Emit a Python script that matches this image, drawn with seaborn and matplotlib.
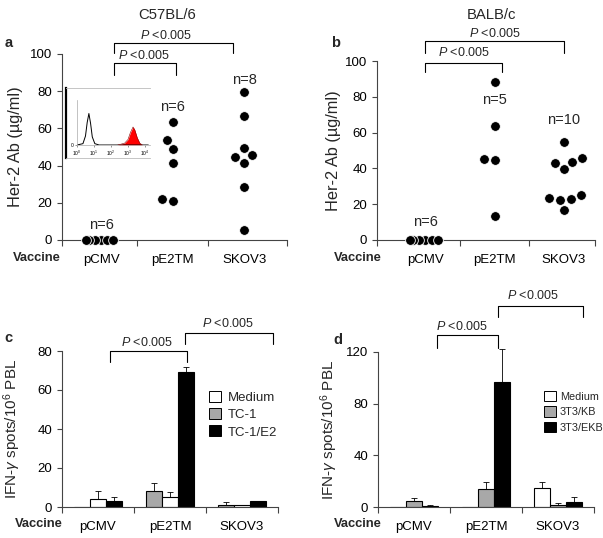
import matplotlib
matplotlib.use('Agg')
import pandas as pd
import matplotlib.pyplot as plt
import seaborn as sns
from matplotlib.patches import Patch

# Dados
vacinas = ['pCMV', 'pE2TM', 'SKOV3']

a_pcmv = [0, 0, 0, 0, 0, 0]
a_pe2tm = [63.5, 54, 49, 41.5, 21, 22]
a_skov3 = [79.5, 66.5, 49.5, 45.5, 44.5, 41.5, 28.5, 5.5]

b_pcmv = [0, 0, 0, 0, 0, 0]
b_pe2tm = [88, 63.5, 45, 44.5, 13.5]
b_skov3 = [54.5, 46, 43.5, 43, 39.5, 25, 23.5, 23, 22.5, 17]

c_ordem = ['TC-1', 'Medium', 'TC-1/E2']
c_legenda = ['Medium', 'TC-1', 'TC-1/E2']
c_medium = [4, 5, 0.8]
c_medium_err = [4, 2.5, 0]
c_tc1 = [0, 8, 1]
c_tc1_err = [0, 4.5, 1.5]
c_tc1e2 = [3, 69, 3]
c_tc1e2_err = [2, 3, 0]

d_ordem = ['Medium', '3T3/KB', '3T3/EKB']
d_medium = [0, 0, 14.5]
d_medium_err = [0, 0, 5]
d_kb = [4.5, 14, 1.5]
d_kb_err = [2.5, 5, 1.5]
d_ekb = [1, 97, 4]
d_ekb_err = [0.8, 25, 4]

# histograma do inset (log10 fluorescencia, contagens)
hist_aberto_x = [0.0, 0.35, 0.5, 0.6, 0.7, 0.8, 0.9, 1.05, 1.3, 4.2]
hist_aberto_y = [0, 3, 20, 50, 70, 48, 18, 3, 0, 0]
hist_verm_x = [2.4, 2.8, 3.0, 3.15, 3.3, 3.4, 3.55, 3.7, 3.85]
hist_verm_y = [0, 4, 12, 28, 40, 34, 16, 4, 0]

sns.set_style('ticks')
plt.rcParams['font.family'] = ['Liberation Sans', 'DejaVu Sans']
plt.rcParams['mathtext.fontset'] = 'custom'
plt.rcParams['mathtext.rm'] = 'Liberation Sans'
plt.rcParams['mathtext.it'] = 'Liberation Sans:italic'
plt.rcParams['axes.edgecolor'] = '#444444'
plt.rcParams['xtick.color'] = '#444444'
plt.rcParams['ytick.color'] = '#444444'
plt.rcParams['xtick.labelcolor'] = 'black'
plt.rcParams['ytick.labelcolor'] = 'black'

W, H = 603, 538
fig = plt.figure(figsize=(6.03, 5.38), dpi=100)


def caixa(x0, x1, y_top, y_bot):
    return [x0 / W, 1 - y_bot / H, (x1 - x0) / W, (y_bot - y_top) / H]


ax_a = fig.add_axes(caixa(62, 287, 54, 240))
ax_b = fig.add_axes(caixa(377, 595, 61, 240))
ax_c = fig.add_axes(caixa(62, 278, 351, 507))
ax_d = fig.add_axes(caixa(378, 594, 352, 507))

FS = 9.5
FS_LAB = 11.8
P_TXT = r'$\it{P}$ <0.005'


def eixo_x(ax, xmin, xmax):
    ax.set_xlim(xmin, xmax)
    ax.set_xticks([xmin, 0.5, 1.5, xmax])
    ax.set_xticklabels([])
    ax.set_xticks([0, 1, 2], minor=True)
    ax.set_xticklabels(vacinas, minor=True, fontsize=FS)
    ax.tick_params(axis='x', which='major', length=4, width=0.8, direction='out')
    ax.tick_params(axis='x', which='minor', length=0, pad=10)
    ax.tick_params(axis='y', length=3.5, width=0.8, labelsize=FS)
    ax.set_xlabel('')
    sns.despine(ax=ax)


def colchete(ax, x0, x1, y_top, y_bot, texto, xt, yt):
    ax.plot([x0, x0, x1, x1], [y_bot, y_top, y_top, y_bot], color='black', lw=0.8, clip_on=False)
    ax.text(xt, yt, texto, ha='center', va='center', fontsize=9, clip_on=False)


def pontos(ax, pcmv, pe2tm, skov3):
    df = pd.DataFrame({
        'Vaccine': ['pCMV'] * len(pcmv) + ['pE2TM'] * len(pe2tm) + ['SKOV3'] * len(skov3),
        'Ab': pcmv + pe2tm + skov3,
    })
    sns.swarmplot(data=df, x='Vaccine', y='Ab', order=vacinas, color='black', size=7,
                  edgecolor='white', linewidth=0.6, ax=ax)
    for col in ax.collections:
        col.set_clip_on(False)
    ax.set_ylim(0, 100)
    ax.set_yticks([0, 20, 40, 60, 80, 100])
    ax.set_ylabel('Her-2 Ab (\u00b5g/ml)', fontsize=FS_LAB)


def apertar_zeros(ax, fator=0.55):
    # os zeros ficam sobrepostos na figura original
    for col in ax.collections:
        off = col.get_offsets()
        if len(off) and abs(off[:, 0].mean()) < 0.3 and (off[:, 1] == 0).all():
            if 'draw' in col.__dict__:
                del col.draw
            off = off.copy()
            off[:, 0] = off[:, 0] * fator
            col.set_offsets(off)


# painel a
pontos(ax_a, a_pcmv, a_pe2tm, a_skov3)
eixo_x(ax_a, -0.55, 2.6)
ax_a.yaxis.set_label_coords(-0.175, 0.5)
for x, y, t in [(0, 8, 'n=6'), (1, 71.5, 'n=6'), (2, 86, 'n=8')]:
    ax_a.text(x, y, t, ha='center', va='center', fontsize=10.5)
colchete(ax_a, 0.18, 1.05, 95.2, 88.7, P_TXT, 0.6, 99)
colchete(ax_a, 0.18, 1.85, 105.9, 100.5, P_TXT, 0.9, 110)

# inset do painel a
ax_in0 = fig.add_axes(caixa(66, 150, 88, 158))
ax_in0.set_xticks([])
ax_in0.set_yticks([])
ax_in0.patch.set_alpha(0)
ax_in0.spines['right'].set_visible(False)
ax_in0.spines['left'].set_color('black')
ax_in0.spines['left'].set_linewidth(1.6)
ax_in0.spines['top'].set_color('#bbbbbb')
ax_in0.spines['bottom'].set_color('#bbbbbb')
ax_in0.spines['top'].set_linewidth(0.6)
ax_in0.spines['bottom'].set_linewidth(0.6)

ax_in = fig.add_axes(caixa(77, 150, 100, 145))
ax_in.patch.set_alpha(0)
sns.lineplot(x=hist_aberto_x, y=hist_aberto_y, color='black', lw=0.7, ax=ax_in)
ax_in.fill_between(hist_verm_x, hist_verm_y, color='red', lw=0)
ax_in.plot(hist_verm_x, hist_verm_y, color='#880000', lw=0.4)
ax_in.axhline(0, color='#333333', lw=0.6, ls=':')
ax_in.set_xlim(0, 4.3)
ax_in.set_ylim(0, 100)
ax_in.set_xticks([0, 1, 2, 3, 4])
ax_in.set_xticklabels(['$10^0$', '$10^1$', '$10^2$', '$10^3$', '$10^4$'], fontsize=3.5)
ax_in.set_yticks([0])
ax_in.set_yticklabels(['0'], fontsize=3.5)
ax_in.tick_params(length=1.5, width=0.4, pad=1)
for s in ['top', 'right']:
    ax_in.spines[s].set_visible(False)
ax_in.spines['left'].set_color('#aaaaaa')
ax_in.spines['bottom'].set_color('#aaaaaa')
ax_in.spines['left'].set_linewidth(0.5)
ax_in.spines['bottom'].set_linewidth(0.5)

# painel b
pontos(ax_b, b_pcmv, b_pe2tm, b_skov3)
eixo_x(ax_b, -0.7, 2.45)
ax_b.yaxis.set_label_coords(-0.165, 0.5)
for x, y, t in [(0, 10, 'n=6'), (1, 78, 'n=5'), (2, 67, 'n=10')]:
    ax_b.text(x, y, t, ha='center', va='center', fontsize=10.5)
colchete(ax_b, 0.0, 1.1, 98.9, 93.9, P_TXT, 0.55, 104.5)
colchete(ax_b, 0.0, 2.0, 111.2, 104.5, P_TXT, 1.0, 115.6)


# paineis de barras
def barras(ax, ordem, series, erros, cores):
    linhas = []
    for nome in ordem:
        for v, val in zip(vacinas, series[nome]):
            linhas.append({'Vaccine': v, 'Estimulo': nome, 'spots': val})
    df = pd.DataFrame(linhas)
    sns.barplot(data=df, x='Vaccine', y='spots', hue='Estimulo', order=vacinas, hue_order=ordem,
                palette=cores, edgecolor='black', linewidth=0.8, width=0.667,
                errorbar=None, legend=False, ax=ax)
    for cont, nome in zip(ax.containers, ordem):
        for barra, e in zip(cont, erros[nome]):
            if e > 0:
                xc = barra.get_x() + barra.get_width() / 2
                h = barra.get_height()
                ax.errorbar([xc], [h], yerr=[[0], [e]], fmt='none', ecolor='black',
                            elinewidth=0.6, capsize=2, capthick=0.6, clip_on=False)


cores_c = {'Medium': 'white', 'TC-1': '#a8a8a8', 'TC-1/E2': 'black'}
barras(ax_c, c_ordem,
       {'Medium': c_medium, 'TC-1': c_tc1, 'TC-1/E2': c_tc1e2},
       {'Medium': c_medium_err, 'TC-1': c_tc1_err, 'TC-1/E2': c_tc1e2_err}, cores_c)
eixo_x(ax_c, -0.5, 2.5)
ax_c.set_ylim(0, 80)
ax_c.set_yticks([0, 20, 40, 60, 80])
ax_c.set_ylabel('IFN-$\\gamma$ spots/10$^6$ PBL', fontsize=11)
ax_c.yaxis.set_label_coords(-0.18, 0.5)
colchete(ax_c, 0.17, 1.23, 80, 74.4, P_TXT, 0.68, 84.5)
colchete(ax_c, 1.21, 2.43, 89, 83.6, P_TXT, 1.8, 94)
ax_c.legend(handles=[Patch(facecolor=cores_c[n], edgecolor='black', lw=0.7, label=n) for n in c_legenda],
            loc='upper left', bbox_to_anchor=(209 / W, 1 - 391 / H), bbox_transform=fig.transFigure,
            frameon=False, fontsize=FS, handlelength=0.9, handleheight=0.9,
            handletextpad=0.5, labelspacing=0.32, borderpad=0, borderaxespad=0)

cores_d = {'Medium': 'white', '3T3/KB': '#a8a8a8', '3T3/EKB': 'black'}
barras(ax_d, d_ordem,
       {'Medium': d_medium, '3T3/KB': d_kb, '3T3/EKB': d_ekb},
       {'Medium': d_medium_err, '3T3/KB': d_kb_err, '3T3/EKB': d_ekb_err}, cores_d)
eixo_x(ax_d, -0.5, 2.5)
ax_d.set_ylim(0, 120)
ax_d.set_yticks([0, 40, 80, 120])
ax_d.set_ylabel('IFN-$\\gamma$ spots/10$^6$ PBL', fontsize=11)
ax_d.yaxis.set_label_coords(-0.175, 0.5)
colchete(ax_d, 0.32, 1.17, 133, 123, P_TXT, 0.67, 140)
colchete(ax_d, 1.17, 2.35, 156, 147, P_TXT, 1.65, 164)
ax_d.legend(handles=[Patch(facecolor=cores_d[n], edgecolor='black', lw=0.7, label=n) for n in d_ordem],
            loc='upper left', bbox_to_anchor=(544 / W, 1 - 391 / H), bbox_transform=fig.transFigure,
            frameon=False, fontsize=7.8, handlelength=1.1, handleheight=1.1,
            handletextpad=0.35, labelspacing=0.42, borderpad=0, borderaxespad=0)

# textos soltos
fig.text(167 / W, 1 - 15 / H, 'C57BL/6', ha='center', va='center', fontsize=10.7)
fig.text(492 / W, 1 - 15 / H, 'BALB/c', ha='center', va='center', fontsize=10.7)
for x, y, t in [(9, 43, 'a'), (336, 43, 'b'), (8, 338, 'c'), (338, 340, 'd')]:
    fig.text(x / W, 1 - y / H, t, ha='center', va='center', fontsize=10.5, fontweight='bold')
for x, y in [(61, 258), (382, 258), (63, 524), (382, 524)]:
    fig.text(x / W, 1 - y / H, 'Vaccine', ha='right', va='center', fontsize=9.3, fontweight='bold')

# posiciona o enxame e depois aperta os zeros
fig.canvas.draw()
apertar_zeros(ax_a)
apertar_zeros(ax_b)

fig.savefig('out.png', dpi=100)
